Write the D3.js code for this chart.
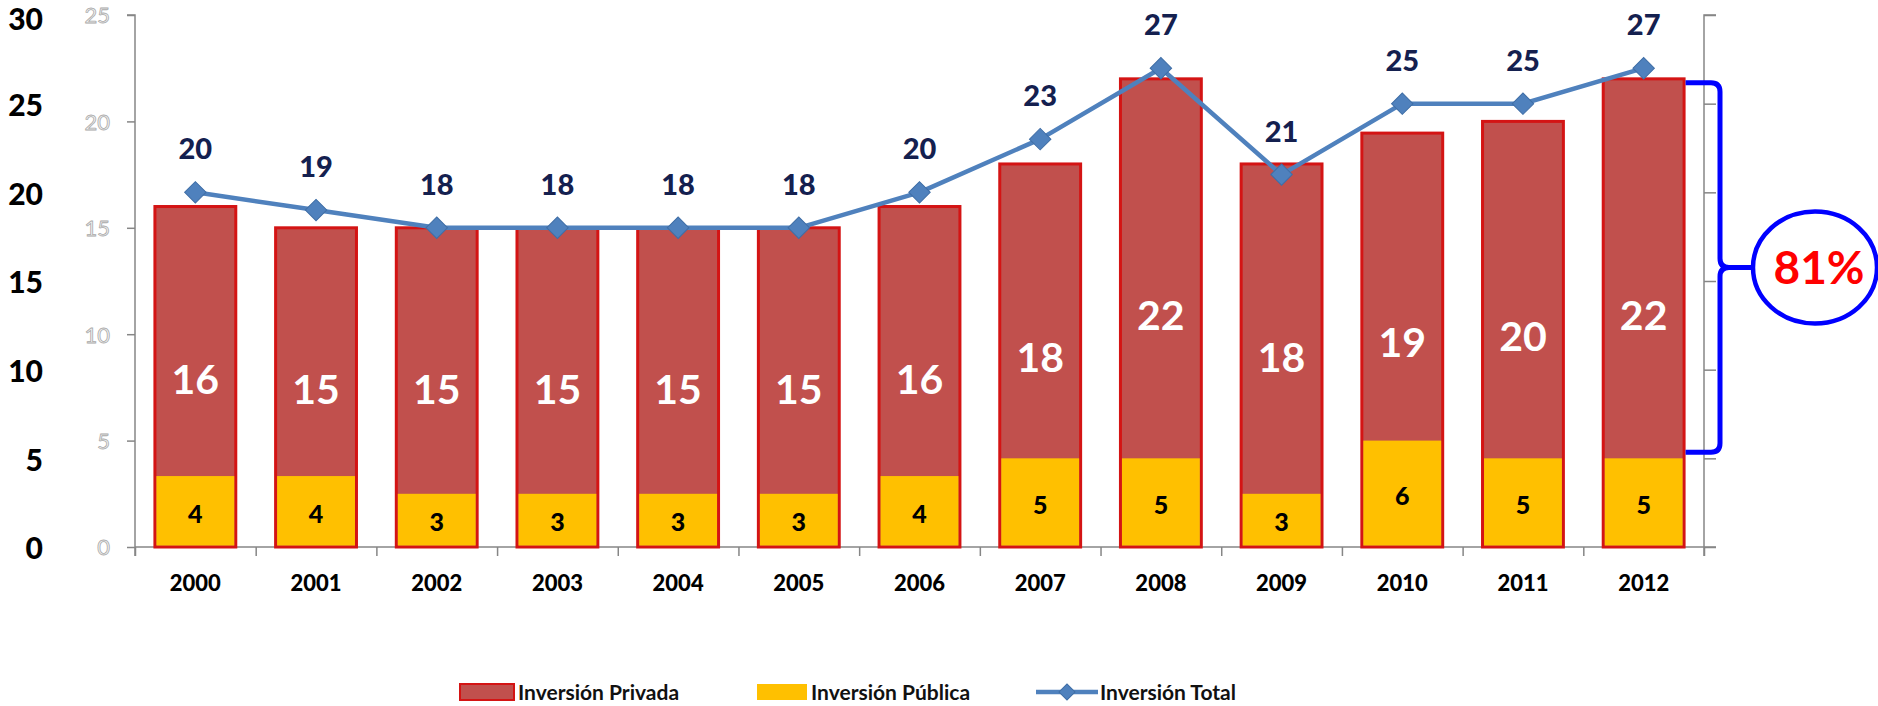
<!DOCTYPE html>
<html>
<head>
<meta charset="utf-8">
<script src="https://cdn.jsdelivr.net/npm/d3@7"></script>
<style>
  html, body { margin: 0; padding: 0; background: #ffffff; }
  svg { display: block; }
  text { font-family: Lato, "Open Sans", "DejaVu Sans", sans-serif; }
</style>
</head>
<body>
<svg id="chart" width="1878" height="706"></svg>
<script>
// ---------------- data ----------------
const years = ["2000","2001","2002","2003","2004","2005","2006","2007","2008","2009","2010","2011","2012"];
const privada = [16, 15, 15, 15, 15, 15, 16, 18, 22, 18, 19.45, 20, 22];
const publica = [4, 4, 3, 3, 3, 3, 4, 5, 5, 3, 6, 5, 5];
const total   = [20, 19, 18, 18, 18, 18, 20, 23, 27, 21, 25, 25, 27];
const ticksOuter = [0, 5, 10, 15, 20, 25, 30];
const ticksInner = [0, 5, 10, 15, 20, 25];
const seriesNames = ["Inversión Privada", "Inversión Pública", "Inversión Total"];
const shareLabel = "81%";

// ---------------- layout ----------------
const svg = d3.select("#chart");
const pLeft = 135, pRight = 1704, pTop = 15, pBottom = 547;
const axisGrey = "#868686";

const x = d3.scaleBand().domain(years).range([pLeft, pRight]).paddingInner(0.33).paddingOuter(0.165);
const yIn = d3.scaleLinear().domain([0, 25]).range([pBottom, pTop]);
const yOut = d3.scaleLinear().domain([0, 30]).range([pBottom, pTop]);
const fmt = d3.format(".0f");

// ---------------- axes ----------------
const gOut = svg.append("g").attr("transform", `translate(43,1)`)
  .call(d3.axisLeft(yOut).tickValues(ticksOuter).tickSize(0).tickPadding(0));
gOut.select(".domain").remove();
gOut.selectAll("text").attr("font-size", 30).attr("font-weight", 900).attr("fill", "#000")
  .attr("font-family", "Lato, sans-serif").attr("dy", d => d === 30 ? "0.46em" : "0.36em");

const gIn = svg.append("g").attr("transform", `translate(${pLeft},0)`)
  .call(d3.axisLeft(yIn).tickValues(ticksInner).tickSize(8).tickPadding(17));
gIn.select(".domain").attr("stroke", axisGrey).attr("stroke-width", 1.5)
  .attr("d", `M-8,${pTop}H0V${pBottom + 9}`);
gIn.selectAll(".tick line").attr("stroke", axisGrey).attr("stroke-width", 1.5);
gIn.selectAll("text").attr("font-size", 22).attr("fill", "#f4f4f4").attr("stroke", "#a9a9a9")
  .attr("stroke-width", 0.8).attr("font-family", "Lato, sans-serif").attr("dy", "0.36em");

const gR = svg.append("g").attr("transform", `translate(${pRight},0)`)
  .call(d3.axisRight(yOut).tickValues(ticksOuter).tickSize(12).tickFormat(""));
gR.select(".domain").attr("stroke", axisGrey).attr("stroke-width", 1.5)
  .attr("d", `M12,${pTop}H0V${pBottom + 9}`);
gR.selectAll(".tick line").attr("stroke", axisGrey).attr("stroke-width", 1.5);

const bnd = d3.scaleLinear().domain([0, years.length]).range([pLeft, pRight]);
const gB = svg.append("g").attr("transform", `translate(0,${pBottom})`)
  .call(d3.axisBottom(bnd).tickValues(d3.range(years.length + 1)).tickSize(9).tickFormat(""));
gB.select(".domain").attr("stroke", axisGrey).attr("stroke-width", 1.5).attr("d", `M${pLeft},0H${pRight + 12}`);
gB.selectAll(".tick line").attr("stroke", axisGrey).attr("stroke-width", 1.5);

const gY = svg.append("g").attr("transform", `translate(0,${pBottom})`)
  .call(d3.axisBottom(x).tickSize(0).tickPadding(36));
gY.select(".domain").remove();
gY.selectAll("text").attr("font-size", 22).attr("font-weight", 900).attr("fill", "#000")
  .attr("font-family", "Lato, sans-serif").attr("dy", "0.36em");

// ---------------- bars ----------------
const rows = years.map((yr, i) => ({ yr, pv: privada[i], pb: publica[i], t: total[i] }));

svg.append("g").selectAll("rect").data(rows).join("rect")
  .attr("x", d => x(d.yr)).attr("width", x.bandwidth())
  .attr("y", d => yIn(d.pv)).attr("height", d => yIn(0) - yIn(d.pv))
  .attr("fill", "#c1504d").attr("stroke", "#d41414").attr("stroke-width", 3);

svg.append("g").selectAll("rect").data(rows).join("rect")
  .attr("x", d => x(d.yr) + 1.5).attr("width", x.bandwidth() - 3)
  .attr("y", d => yOut(d.pb)).attr("height", d => yOut(0) - yOut(d.pb) - 1.5)
  .attr("fill", "#ffc000");

svg.append("g").selectAll("text").data(rows).join("text")
  .attr("x", d => x(d.yr) + x.bandwidth() / 2)
  .attr("y", d => (yIn(d.pv) + yIn(0)) / 2 + 2)
  .attr("dy", "0.36em").attr("text-anchor", "middle")
  .attr("font-size", 41).attr("font-weight", 700).attr("fill", "#ffffff")
  .text(d => fmt(d.pv));

svg.append("g").selectAll("text").data(rows).join("text")
  .attr("x", d => x(d.yr) + x.bandwidth() / 2)
  .attr("y", d => (yOut(d.pb) + yOut(0)) / 2 + 2)
  .attr("dy", "0.36em").attr("text-anchor", "middle")
  .attr("font-size", 25).attr("font-weight", 900).attr("fill", "#000000")
  .text(d => fmt(d.pb));

// ---------------- line ----------------
const cx = d => x(d.yr) + x.bandwidth() / 2;
const lineBlue = "#4f81bd";
svg.append("path").datum(rows)
  .attr("d", d3.line().x(cx).y(d => yOut(d.t)))
  .attr("fill", "none").attr("stroke", lineBlue).attr("stroke-width", 4.5).attr("stroke-linejoin", "round");

const diamond = d3.symbol().type(d3.symbolSquare).size(230);
svg.append("g").selectAll("path").data(rows).join("path")
  .attr("d", diamond)
  .attr("transform", d => `translate(${cx(d)},${yOut(d.t)}) rotate(45)`)
  .attr("fill", lineBlue).attr("stroke", "#3f6ea6").attr("stroke-width", 1);

svg.append("g").selectAll("text").data(rows).join("text")
  .attr("x", cx).attr("y", d => yOut(d.t) - 33)
  .attr("text-anchor", "middle")
  .attr("font-size", 29).attr("font-weight", 900).attr("fill", "#14204f")
  .text(d => fmt(d.t));

// ---------------- bracket + 81% ----------------
const last = rows[rows.length - 1];
const bx0 = x(last.yr) + x.bandwidth() + 1.5;
const bx = 1720, r = 9;
const by0 = yIn(last.pv) + 4, by1 = yOut(last.pb) - 6;
const bm = (by0 + by1) / 2;
const ellCx = 1815, ellRx = 62, ellRy = 56;
const br = d3.path();
br.moveTo(bx0, by0); br.lineTo(bx - r, by0); br.quadraticCurveTo(bx, by0, bx, by0 + r);
br.lineTo(bx, bm - r); br.quadraticCurveTo(bx, bm, bx + r, bm);
br.lineTo(ellCx - ellRx, bm);
br.moveTo(bx + r, bm); br.quadraticCurveTo(bx, bm, bx, bm + r);
br.lineTo(bx, by1 - r); br.quadraticCurveTo(bx, by1, bx - r, by1); br.lineTo(bx0, by1);
svg.append("path").attr("d", br.toString()).attr("fill", "none")
  .attr("stroke", "#0000ff").attr("stroke-width", 5);

svg.append("ellipse").attr("cx", ellCx).attr("cy", bm).attr("rx", ellRx).attr("ry", ellRy)
  .attr("fill", "#ffffff").attr("stroke", "#0000ff").attr("stroke-width", 4.5);
svg.append("text").attr("x", ellCx + 4).attr("y", bm).attr("dy", "0.36em")
  .attr("text-anchor", "middle").attr("font-family", "'Liberation Sans', Arial, sans-serif")
  .attr("font-size", 46).attr("font-weight", 700).attr("fill", "#ff0000").text(shareLabel);

// ---------------- legend ----------------
const ly = 692;
const leg = svg.append("g");
leg.append("rect").attr("x", 460).attr("y", ly - 8).attr("width", 54).attr("height", 16)
  .attr("fill", "#c1504d").attr("stroke", "#d41414").attr("stroke-width", 2);
leg.append("text").attr("x", 518).attr("y", ly).attr("dy", "0.36em").attr("font-size", 21)
  .attr("font-weight", 700).attr("fill", "#111").text(seriesNames[0]);
leg.append("rect").attr("x", 757).attr("y", ly - 8).attr("width", 50).attr("height", 16)
  .attr("fill", "#ffc000");
leg.append("text").attr("x", 811).attr("y", ly).attr("dy", "0.36em").attr("font-size", 21)
  .attr("font-weight", 700).attr("fill", "#111").text(seriesNames[1]);
leg.append("line").attr("x1", 1036).attr("x2", 1098).attr("y1", ly).attr("y2", ly)
  .attr("stroke", lineBlue).attr("stroke-width", 4.5);
leg.append("path").attr("d", d3.symbol().type(d3.symbolSquare).size(130))
  .attr("transform", `translate(1067,${ly}) rotate(45)`).attr("fill", lineBlue).attr("stroke", "#3f6ea6");
leg.append("text").attr("x", 1100).attr("y", ly).attr("dy", "0.36em").attr("font-size", 21)
  .attr("font-weight", 700).attr("fill", "#111").text(seriesNames[2]);
</script>
</body>
</html>
